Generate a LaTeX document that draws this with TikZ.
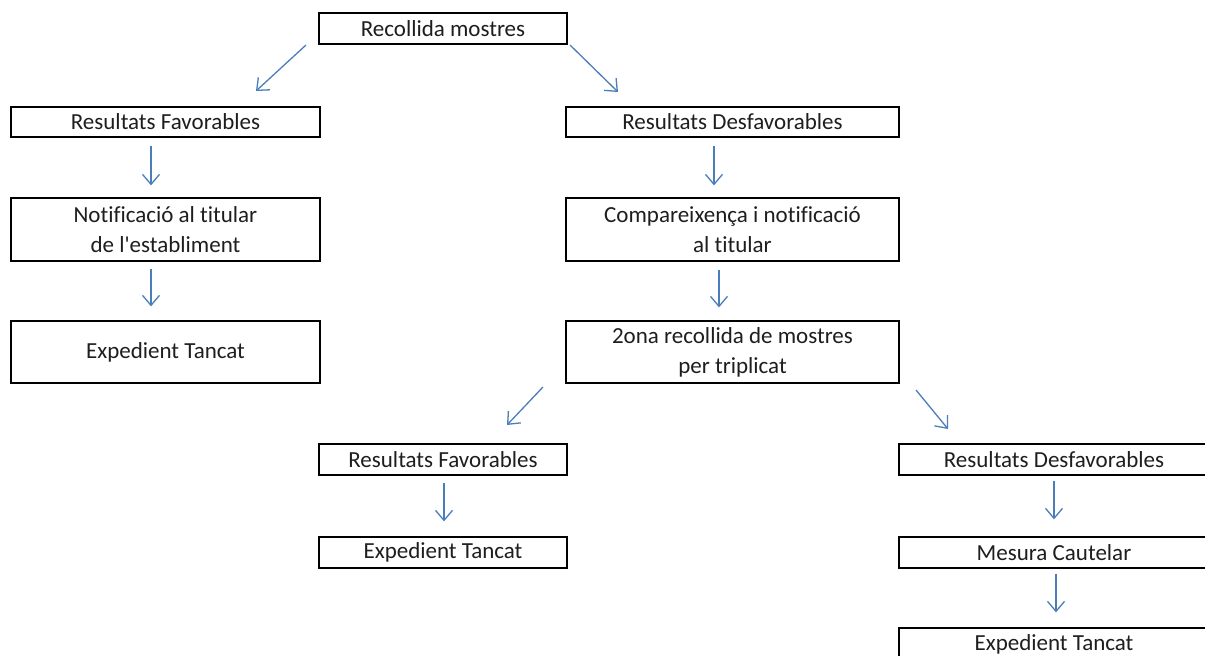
\documentclass[tikz,border=0pt]{standalone}
\usepackage{fontspec}
\setmainfont{Carlito}[Ligatures=NoCommon, RawFeature={-liga}]
\usetikzlibrary{arrows.meta}
\definecolor{arrowblue}{HTML}{4A7EBB}
\definecolor{txt}{HTML}{1E1E1E}
\tikzset{
  box/.style={draw=black, line width=1.3pt, rectangle, inner sep=0pt, align=center,
    text=txt, font=\fontsize{23}{30}\selectfont},
  flow/.style={draw=arrowblue, line width=1.3pt, -{Straight Barb[length=10pt,width=17pt,line width=1.3pt]}},
}
\begin{document}
\begin{tikzpicture}[x=1pt,y=-1pt]
\useasboundingbox (0,0) rectangle (1205,656);
\fill[white] (0,0) rectangle (1205,656);
% boxes
\node[box, minimum width=248pt, minimum height=31pt] (rec) at (443,28.5) {Recollida mostres};
\node[box, minimum width=309pt, minimum height=30pt] (rf1) at (165.5,122) {Resultats Favorables};
\node[box, minimum width=333pt, minimum height=30pt] (rd1) at (732.5,122) {Resultats Desfavorables};
\node[box, minimum width=309pt, minimum height=63pt] (notif) at (165.5,229.5) {Notificació al titular\\de l\textquotesingle establiment};
\node[box, minimum width=333pt, minimum height=63pt] (comp) at (732.5,229.5) {Compareixença i notificació\\al titular};
\node[box, minimum width=309pt, minimum height=62pt] (exp1) at (165.5,352) {Expedient Tancat};
\node[box, minimum width=333pt, minimum height=62pt] (zona) at (732.5,352) {2ona recollida de mostres\\per triplicat};
\node[box, minimum width=248pt, minimum height=31pt] (rf2) at (443,459.5) {Resultats Favorables};
\node[box, minimum width=248pt, minimum height=31pt] (exp2) at (443,552.5) {Expedient Tancat};
\node[box, minimum width=310pt, minimum height=31pt] (rd2) at (1054,459.5) {Resultats Desfavorables};
\node[box, minimum width=310pt, minimum height=31pt] (mes) at (1054,552.5) {Mesura Cautelar};
\node[box, minimum width=310pt, minimum height=32pt] (exp3) at (1054,644) {Expedient Tancat};
% free ends of the diagonal connectors
\coordinate (d1a) at (306,45);  \coordinate (d1b) at (256,91);
\coordinate (d2a) at (570,45);  \coordinate (d2b) at (618,92);
\coordinate (d3a) at (543,387); \coordinate (d3b) at (507,425);
\coordinate (d4a) at (916,390); \coordinate (d4b) at (948,429);
% connectors
\draw[flow] (d1a) -- (d1b);
\draw[flow] (d2a) -- (d2b);
\draw[flow] (d3a) -- (d3b);
\draw[flow] (d4a) -- (d4b);
\draw[flow] ([xshift=-14.5pt]rf1.south) ++(0,8) -- ([xshift=-14.5pt,yshift=12pt]notif.north);
\draw[flow] ([xshift=-14.5pt]notif.south) ++(0,7) -- ([xshift=-14.5pt,yshift=14pt]exp1.north);
\draw[flow] ([xshift=-18.5pt]rd1.south) ++(0,8) -- ([xshift=-18.5pt,yshift=12pt]comp.north);
\draw[flow] ([xshift=-13.5pt]comp.south) ++(0,8) -- ([xshift=-13.5pt,yshift=13pt]zona.north);
\draw[flow] ([xshift=1pt]rf2.south) ++(0,7) -- ([xshift=1pt,yshift=15pt]exp2.north);
\draw[flow] (rd2.south) ++(0,5) -- ([yshift=17pt]mes.north);
\draw[flow] ([xshift=2pt]mes.south) ++(0,5) -- ([xshift=2pt,yshift=15pt]exp3.north);
\end{tikzpicture}
\end{document}
